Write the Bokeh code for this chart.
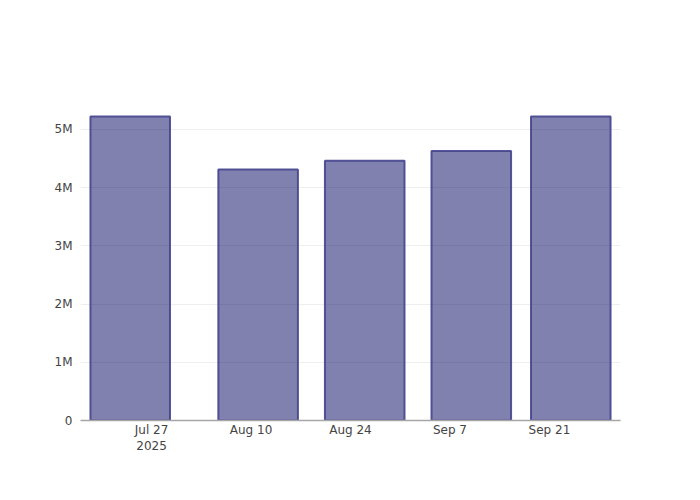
import pandas as pd
from bokeh.plotting import figure
from bokeh.models import Range1d, FixedTicker, CustomJSTickFormatter, ColumnDataSource
from bokeh.embed import file_html
from bokeh.resources import INLINE

# Data
dates = ["2025-07-24", "2025-08-11", "2025-08-26", "2025-09-10", "2025-09-24"]
values = [5220000, 4310000, 4460000, 4630000, 5220000]

x_tick_dates = ["2025-07-27", "2025-08-10", "2025-08-24", "2025-09-07", "2025-09-21"]
x_tick_labels = ["Jul 27\n2025", "Aug 10", "Aug 24", "Sep 7", "Sep 21"]
y_ticks = [0, 1000000, 2000000, 3000000, 4000000, 5000000]
y_tick_labels = ["0", "1M", "2M", "3M", "4M", "5M"]

x_start = "2025-07-17"
x_end = "2025-10-01"

day_ms = 86400000
bar_width_ms = 0.8 * 14 * day_ms

src = ColumnDataSource(dict(x=pd.to_datetime(dates), top=values))

p = figure(width=684, height=484, output_backend="svg", toolbar_location=None,
           x_axis_type="datetime",
           x_range=Range1d(pd.Timestamp(x_start), pd.Timestamp(x_end)),
           y_range=Range1d(0, max(values) * 1.053),
           min_border_left=80, min_border_right=64, min_border_top=100, min_border_bottom=64)

p.vbar(x="x", top="top", width=bar_width_ms, source=src,
       fill_color="#191970", fill_alpha=0.55,
       line_color="#44448e", line_alpha=0.9, line_width=2)

p.outline_line_color = None
p.background_fill_color = "white"
p.border_fill_color = "white"

font = "DejaVu Sans"

# x axis
tick_ms = [pd.Timestamp(d).value // 10**6 for d in x_tick_dates]
p.xaxis.ticker = FixedTicker(ticks=tick_ms)
p.xaxis.formatter = CustomJSTickFormatter(args=dict(tvals=tick_ms, tlabels=x_tick_labels), code="""
    for (let i = 0; i < tvals.length; i++) {
        if (Math.abs(tvals[i] - tick) < 1000) { return tlabels[i]; }
    }
    return "";
""")
p.xaxis.axis_line_color = "#a6a6a6"
p.xaxis.axis_line_width = 1.5
p.xaxis.major_tick_line_color = None
p.xaxis.minor_tick_line_color = None
p.xaxis.major_label_standoff = -4
p.xaxis.major_label_text_font = font
p.xaxis.major_label_text_font_size = "12px"
p.xaxis.major_label_text_color = "#444444"
p.xaxis.major_label_text_line_height = 1.15

# y axis
p.yaxis.ticker = FixedTicker(ticks=y_ticks)
p.yaxis.major_label_overrides = {t: l for t, l in zip(y_ticks, y_tick_labels)}
p.yaxis.axis_line_color = None
p.yaxis.major_tick_line_color = None
p.yaxis.minor_tick_line_color = None
p.yaxis.major_label_standoff = 2
p.yaxis.major_label_text_font = font
p.yaxis.major_label_text_font_size = "12px"
p.yaxis.major_label_text_color = "#444444"

p.xgrid.grid_line_color = None
p.ygrid.grid_line_color = "#eeeeee"
p.ygrid.grid_line_width = 1

open("out.html", "w").write(file_html(p, INLINE))
